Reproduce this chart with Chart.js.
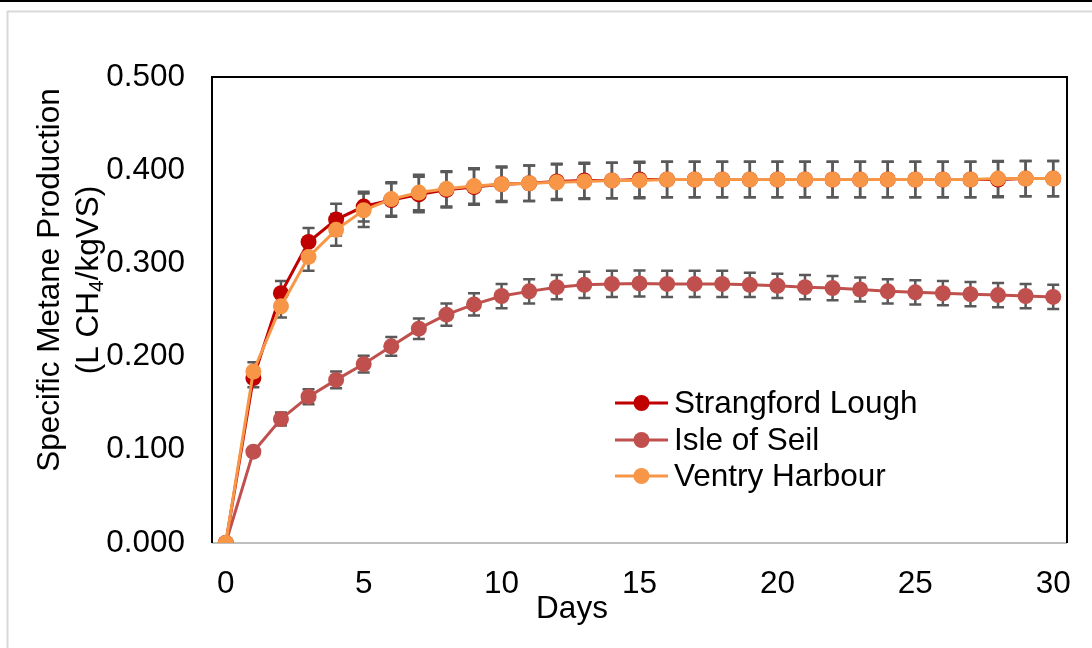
<!DOCTYPE html>
<html><head><meta charset="utf-8">
<script src="https://cdn.jsdelivr.net/npm/chart.js@4/dist/chart.umd.min.js"></script>
<style>html,body{margin:0;padding:0;background:#fff;overflow:hidden}</style>
</head><body>
<canvas id="c" width="1092" height="648"></canvas>
<script>
const days = [0,1,2,3,4,5,6,7,8,9,10,11,12,13,14,15,16,17,18,19,20,21,22,23,24,25,26,27,28,29,30];
const seriesNames = ['Strangford Lough','Isle of Seil','Ventry Harbour'];
const strangford = [0,0.177,0.268,0.323,0.347,0.361,0.368,0.374,0.379,0.382,0.385,0.386,0.388,0.389,0.389,0.390,0.390,0.390,0.390,0.390,0.390,0.390,0.390,0.390,0.390,0.390,0.390,0.390,0.390,0.391,0.391];
const strangfordErr = [0,0.010,0.013,0.015,0.017,0.016,0.018,0.019,0.019,0.019,0.019,0.019,0.019,0.019,0.019,0.019,0.019,0.019,0.019,0.019,0.019,0.019,0.019,0.019,0.019,0.019,0.019,0.019,0.019,0.019,0.019];
const isle = [0,0.098,0.133,0.157,0.175,0.192,0.211,0.230,0.245,0.256,0.265,0.270,0.2745,0.277,0.278,0.2785,0.278,0.278,0.278,0.277,0.276,0.2745,0.2735,0.272,0.270,0.269,0.268,0.267,0.266,0.265,0.264];
const isleErr = [0,0.004,0.007,0.008,0.009,0.009,0.010,0.011,0.012,0.012,0.013,0.013,0.013,0.014,0.014,0.014,0.014,0.014,0.014,0.013,0.013,0.013,0.013,0.013,0.013,0.013,0.013,0.013,0.013,0.013,0.013];
const ventry = [0,0.184,0.254,0.307,0.336,0.357,0.369,0.376,0.380,0.383,0.385,0.386,0.387,0.388,0.389,0.389,0.390,0.390,0.390,0.390,0.390,0.390,0.390,0.390,0.390,0.390,0.390,0.390,0.391,0.391,0.391];
const ventryErr = [0,0.010,0.012,0.015,0.017,0.018,0.018,0.019,0.019,0.019,0.018,0.019,0.019,0.019,0.019,0.019,0.019,0.019,0.019,0.019,0.019,0.019,0.019,0.019,0.019,0.019,0.019,0.019,0.019,0.019,0.019];
const xTicks = [0,5,10,15,20,25,30];
const yTicks = [0,0.1,0.2,0.3,0.4,0.5];
const xTitle = 'Days';
const yTitle1 = 'Specific Metane Production';
const yTitle2 = ['(L CH', '4', '/kgVS)'];

const FONT = '"Liberation Sans", Arial, sans-serif';
const FS = 31.5;
const colors = ['#C00000','#C0504D','#F79646'];
const values = [strangford, isle, ventry];
const errs = [strangfordErr, isleErr, ventryErr];

function toPts(arr){ return days.map((d,i)=>({x:d,y:arr[i]})); }

const decor = {
  id:'decor',
  beforeDraw(chart){
    const ctx = chart.ctx;
    ctx.save();
    ctx.fillStyle = '#fff';
    ctx.fillRect(0,0,chart.width,chart.height);
    ctx.fillStyle = '#000';
    ctx.fillRect(0,0,chart.width,2);
    ctx.strokeStyle = '#D9D9D9';
    ctx.lineWidth = 2;
    ctx.beginPath();
    ctx.moveTo(7.5, chart.height+2); ctx.lineTo(7.5, 11.5); ctx.lineTo(chart.width+2, 11.5);
    ctx.stroke();
    ctx.restore();
  },
  beforeDatasetsDraw(chart){
    const ctx = chart.ctx, a = chart.chartArea;
    const xs = chart.scales.x, ys = chart.scales.y;
    ctx.save();
    ctx.strokeStyle = '#BFBFBF'; ctx.lineWidth = 2;
    ctx.beginPath(); ctx.moveTo(a.left, a.bottom); ctx.lineTo(a.right, a.bottom); ctx.stroke();
    ctx.strokeStyle = '#000'; ctx.lineWidth = 2;
    ctx.beginPath(); ctx.moveTo(a.left, a.bottom); ctx.lineTo(a.left, a.top); ctx.lineTo(a.right, a.top); ctx.lineTo(a.right, a.bottom); ctx.stroke();
    ctx.strokeStyle = '#595959'; ctx.lineWidth = 2.5;
    for (let s=0; s<values.length; s++){
      for (let i=0;i<days.length;i++){
        const e = errs[s][i]; if (!e) continue;
        const px = xs.getPixelForValue(days[i]);
        const t = ys.getPixelForValue(values[s][i]+e);
        const b = ys.getPixelForValue(values[s][i]-e);
        ctx.beginPath();
        ctx.moveTo(px,t); ctx.lineTo(px,b);
        ctx.moveTo(px-6,t); ctx.lineTo(px+6,t);
        ctx.moveTo(px-6,b); ctx.lineTo(px+6,b);
        ctx.stroke();
      }
    }
    ctx.restore();
  },
  afterDraw(chart){
    const ctx = chart.ctx;
    ctx.save();
    ctx.fillStyle = '#000';
    ctx.font = FS+'px '+FONT;
    ctx.textAlign = 'center'; ctx.textBaseline = 'middle';
    ctx.fillText(xTitle, 572, 609);
    ctx.save();
    ctx.translate(50, 280);
    ctx.rotate(-Math.PI/2);
    ctx.fillText(yTitle1, 0, 0);
    ctx.restore();
    ctx.save();
    ctx.translate(89, 280);
    ctx.rotate(-Math.PI/2);
    const subFS = Math.round(FS*0.66);
    ctx.font = FS+'px '+FONT;
    const w1 = ctx.measureText(yTitle2[0]).width, w3 = ctx.measureText(yTitle2[2]).width;
    ctx.font = subFS+'px '+FONT;
    const w2 = ctx.measureText(yTitle2[1]).width;
    let x0 = -(w1+w2+w3)/2;
    ctx.textAlign = 'left';
    ctx.font = FS+'px '+FONT;
    ctx.fillText(yTitle2[0], x0, 0);
    ctx.font = subFS+'px '+FONT;
    ctx.fillText(yTitle2[1], x0+w1, 8);
    ctx.font = FS+'px '+FONT;
    ctx.fillText(yTitle2[2], x0+w1+w2, 0);
    ctx.restore();
    const ly = [403, 440, 476];
    for (let s=0;s<3;s++){
      ctx.strokeStyle = colors[s]; ctx.lineWidth = 3;
      ctx.beginPath(); ctx.moveTo(615, ly[s]); ctx.lineTo(668, ly[s]); ctx.stroke();
      ctx.fillStyle = colors[s];
      ctx.beginPath(); ctx.arc(641.5, ly[s], 8, 0, Math.PI*2); ctx.fill();
      ctx.fillStyle = '#000';
      ctx.textAlign = 'left'; ctx.textBaseline = 'middle';
      ctx.font = FS+'px '+FONT;
      ctx.fillText(seriesNames[s], 674, ly[s]+1);
    }
    ctx.restore();
  }
};

const datasets = values.map((arr,s)=>({
  label: seriesNames[s],
  data: toPts(arr),
  borderColor: colors[s],
  backgroundColor: colors[s],
  pointBackgroundColor: colors[s],
  pointBorderColor: colors[s],
  pointBorderWidth: 0,
  pointRadius: 8,
  borderWidth: 3,
  tension: 0,
  fill: false,
  order: 3 - s
}));

new Chart(document.getElementById('c'), {
  type: 'line',
  data: { datasets },
  plugins: [decor],
  options: {
    responsive: false,
    animation: false,
    devicePixelRatio: 1,
    layout: { padding: { left: 0, right: 25, top: 77, bottom: 0 } },
    plugins: { legend: { display: false }, tooltip: { enabled: false } },
    scales: {
      x: {
        type: 'linear', min: -0.5, max: 30.5,
        afterBuildTicks: s => { s.ticks = xTicks.map(v => ({ value: v })); },
        afterFit: s => { s.height = 105; },
        grid: { display: false }, border: { display: false },
        ticks: { font: { family: FONT, size: FS }, color: '#000', padding: 14, maxRotation: 0, autoSkip: false }
      },
      y: {
        min: 0, max: 0.5,
        afterBuildTicks: s => { s.ticks = yTicks.map(v => ({ value: v })); },
        afterFit: s => { s.width = 212; },
        grid: { display: false }, border: { display: false },
        ticks: { font: { family: FONT, size: FS }, color: '#000', padding: 19, callback: v => Number(v).toFixed(3) }
      }
    }
  }
});
</script>
</body></html>
